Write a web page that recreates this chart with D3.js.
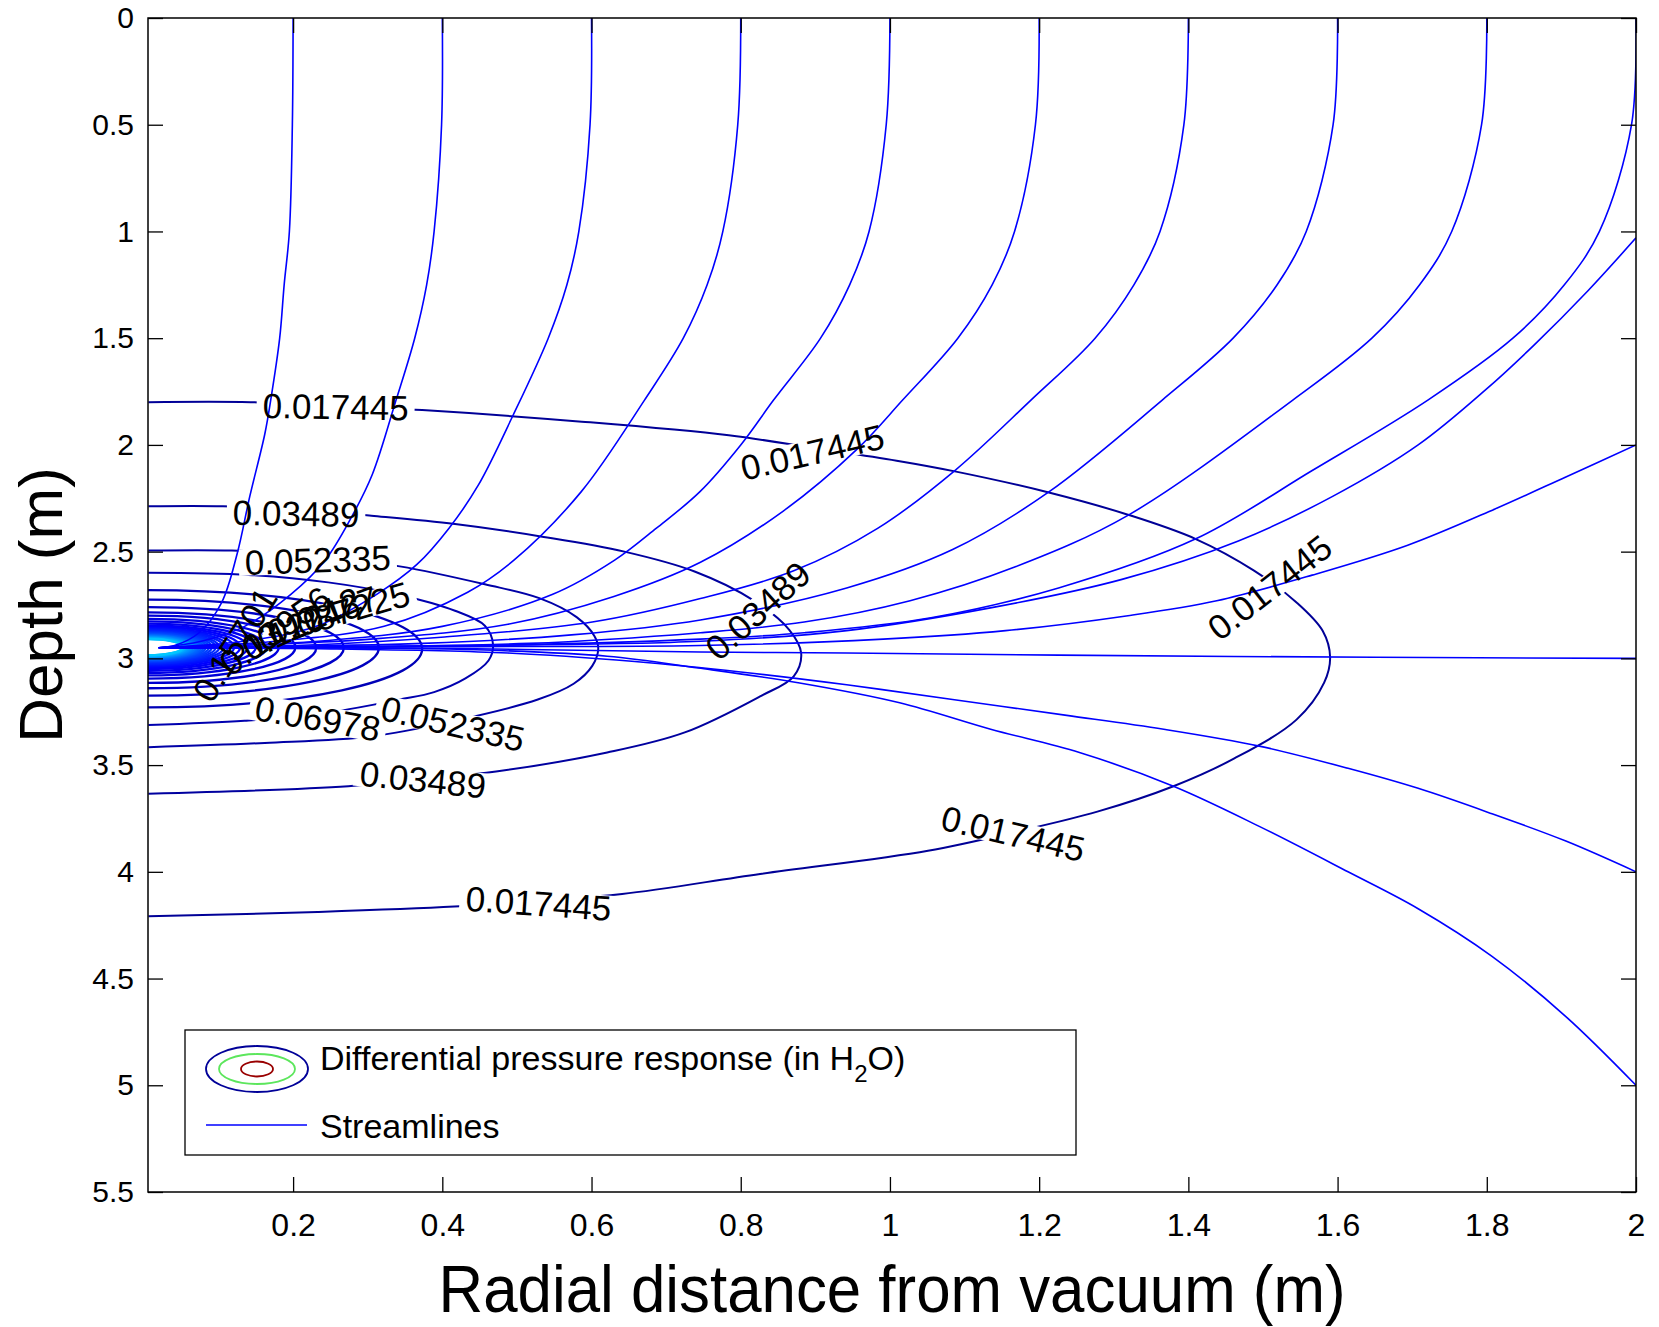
<!DOCTYPE html>
<html>
<head>
<meta charset="utf-8">
<title>Differential pressure response and streamlines</title>
<script src="https://cdnjs.cloudflare.com/ajax/libs/d3/7.8.5/d3.min.js"></script>
<style>
    body { margin: 0; background: #fff; }
    text { font-family: "Liberation Sans", Arial, Helvetica, sans-serif; fill: #000; }
</style>
</head>
<body>
<div id="chart"></div>
<script>
// contour levels of the differential pressure (in H2O)
var levels = [0.017445, 0.03489, 0.052335, 0.06978, 0.087225, 0.10467, 0.122115, 0.13956,
    0.157005, 0.17445, 0.191895, 0.20934, 0.226785, 0.24423, 0.261675, 0.27912, 0.296565,
    0.31401, 0.331455, 0.3489, 0.366345, 0.38379, 0.401235, 0.41868, 0.436125, 0.45357,
    0.471015, 0.48846, 0.505905, 0.52335, 0.540795, 0.55824, 0.575685, 0.59313, 0.610575, 0.62802];

// the four outer contours, traced as [radial distance, depth]
var contour1 = [[0.006,1.80],[0.143,1.80],[0.258,1.817],[0.373,1.837],[0.587,1.891],[0.784,1.955],[0.899,2.015],
    [1.009,2.074],[1.087,2.124],[1.213,2.223],[1.319,2.327],[1.41,2.441],[1.488,2.589],[1.545,2.738],[1.58,2.871],
    [1.59,2.995],[1.582,3.114],[1.545,3.287],[1.461,3.47],[1.38,3.599],[1.278,3.718],[1.169,3.812],[1.051,3.901],
    [0.826,4.01],[0.641,4.104],[0.53,4.134],[0.416,4.163],[0.233,4.188],[0.006,4.208]];
var contour2 = [[0.006,2.287],[0.106,2.287],[0.204,2.302],[0.305,2.332],[0.417,2.371],[0.536,2.431],[0.644,2.5],
    [0.739,2.594],[0.817,2.728],[0.865,2.866],[0.881,2.975],[0.871,3.084],[0.826,3.178],[0.725,3.347],[0.621,3.441],
    [0.472,3.53],[0.374,3.564],[0.274,3.599],[0.006,3.634]];
var contour3 = [[0.006,2.495],[0.118,2.495],[0.233,2.52],[0.343,2.569],[0.457,2.653],[0.53,2.718],[0.58,2.807],
    [0.604,2.896],[0.609,2.955],[0.601,3.035],[0.576,3.119],[0.528,3.193],[0.417,3.292],[0.304,3.366],[0.162,3.396],
    [0.006,3.416]];
var contour4 = [[0.006,2.599],[0.14,2.609],[0.247,2.644],[0.343,2.703],[0.417,2.777],[0.457,2.847],[0.468,2.936],
    [0.462,3.01],[0.431,3.094],[0.389,3.158],[0.343,3.193],[0.233,3.262],[0.135,3.292],[0.006,3.312]];
var outerContours = [contour1, contour2, contour3, contour4];

// inner contours (levels 5..36): depth where they meet the axis above / below, and radial reach
var innerTop = [2.68, 2.725, 2.76, 2.785, 2.80, 2.815, 2.827, 2.837, 2.845, 2.852, 2.858, 2.863, 2.868, 2.872,
    2.876, 2.879, 2.882, 2.885, 2.888, 2.890, 2.892, 2.894, 2.896, 2.898, 2.900, 2.902, 2.903, 2.905, 2.906,
    2.908, 2.909, 2.910];
var innerBottom = [3.23, 3.175, 3.14, 3.115, 3.095, 3.08, 3.068, 3.058, 3.05, 3.043, 3.037, 3.032, 3.027, 3.023,
    3.019, 3.016, 3.013, 3.010, 3.007, 3.005, 3.003, 3.001, 2.999, 2.997, 2.995, 2.993, 2.991, 2.990, 2.988,
    2.987, 2.986, 2.985];
var innerReach = [0.373, 0.315, 0.268, 0.231, 0.203, 0.181, 0.164, 0.150, 0.139, 0.129, 0.121, 0.113, 0.107,
    0.101, 0.096, 0.091, 0.087, 0.083, 0.080, 0.077, 0.074, 0.071, 0.069, 0.066, 0.064, 0.062, 0.060, 0.058,
    0.056, 0.055, 0.053, 0.052];

// streamlines, from the boundary to the vacuum point
var streamlines = [
    [[0.2,0],[0.199,0.5],[0.195,1.0],[0.188,1.25],[0.182,1.5],[0.17,1.79],[0.162,1.95],[0.142,2.24],[0.125,2.51],[0.104,2.74],[0.074,2.88],[0.041,2.94],[0.02,2.95]],
    [[0.4,0],[0.399,0.5],[0.389,1.0],[0.379,1.25],[0.363,1.5],[0.338,1.79],[0.306,2.14],[0.278,2.34],[0.243,2.54],[0.197,2.7],[0.135,2.85],[0.077,2.92],[0.02,2.95]],
    [[0.6,0],[0.598,0.5],[0.583,1.0],[0.567,1.25],[0.542,1.5],[0.495,1.86],[0.448,2.19],[0.409,2.39],[0.366,2.56],[0.312,2.7],[0.231,2.85],[0.133,2.92],[0.02,2.95]],
    [[0.8,0],[0.796,0.5],[0.776,1.0],[0.755,1.25],[0.723,1.5],[0.671,1.79],[0.586,2.22],[0.496,2.54],[0.434,2.69],[0.322,2.85],[0.176,2.92],[0.02,2.95]],
    [[1.0,0],[0.995,0.5],[0.972,1.0],[0.946,1.25],[0.907,1.5],[0.844,1.79],[0.8,2.0],[0.745,2.22],[0.687,2.39],[0.631,2.54],[0.548,2.7],[0.4,2.85],[0.233,2.92],[0.02,2.95]],
    [[1.2,0],[1.195,0.5],[1.167,1.0],[1.137,1.25],[1.091,1.5],[1.017,1.79],[0.956,2.02],[0.857,2.31],[0.746,2.55],[0.63,2.71],[0.488,2.84],[0.304,2.91],[0.119,2.94],[0.02,2.95]],
    [[1.4,0],[1.394,0.5],[1.362,1.0],[1.327,1.25],[1.275,1.5],[1.189,1.79],[1.087,2.12],[0.984,2.39],[0.871,2.59],[0.746,2.72],[0.601,2.83],[0.403,2.9],[0.204,2.94],[0.02,2.95]],
    [[1.6,0],[1.594,0.5],[1.558,1.0],[1.519,1.25],[1.46,1.5],[1.365,1.79],[1.213,2.22],[1.084,2.49],[0.942,2.67],[0.746,2.82],[0.573,2.89],[0.374,2.93],[0.02,2.95]],
    [[1.8,0],[1.793,0.5],[1.753,1.0],[1.71,1.25],[1.646,1.5],[1.54,1.79],[1.319,2.33],[1.169,2.57],[1.027,2.73],[0.885,2.83],[0.746,2.88],[0.516,2.93],[0.02,2.95]],
    [[2.0,0],[1.994,0.5],[1.951,1.0],[1.904,1.25],[1.835,1.5],[1.721,1.79],[1.566,2.12],[1.41,2.44],[1.226,2.67],[1.055,2.81],[0.885,2.88],[0.746,2.91],[0.445,2.94],[0.02,2.95]],
    [[2.0,1.03],[1.935,1.28],[1.864,1.53],[1.799,1.74],[1.708,2.0],[1.594,2.24],[1.467,2.45],[1.311,2.63],[1.14,2.76],[0.942,2.87],[0.746,2.92],[0.445,2.94],[0.02,2.95]],
    [[2.0,2.0],[1.906,2.15],[1.811,2.3],[1.694,2.47],[1.566,2.61],[1.438,2.73],[1.319,2.8],[1.155,2.87],[0.991,2.91],[0.746,2.94],[0.445,2.945],[0.02,2.95]],
    [[2.0,3.0],[1.651,2.995],[1.226,2.985],[0.942,2.975],[0.746,2.97],[0.445,2.955],[0.02,2.95]],
    [[2.0,4.0],[1.906,3.856],[1.807,3.728],[1.708,3.609],[1.614,3.515],[1.495,3.411],[1.367,3.332],[1.237,3.267],[1.084,3.193],[0.942,3.124],[0.8,3.064],[0.658,3.015],[0.488,2.975],[0.233,2.955],[0.02,2.95]],
    [[2.0,5.0],[1.906,4.678],[1.807,4.396],[1.708,4.173],[1.614,4.0],[1.495,3.787],[1.38,3.599],[1.254,3.441],[1.135,3.332],[1.013,3.208],[0.877,3.114],[0.743,3.045],[0.621,2.99],[0.445,2.96],[0.233,2.95],[0.02,2.95]]
];

// inline contour labels (the last five pile up next to the vacuum point)
var labelText = ["0.017445", "0.017445", "0.017445", "0.017445", "0.017445", "0.03489", "0.03489", "0.03489",
    "0.052335", "0.052335", "0.06978", "0.087225", "0.10467", "0.12212", "0.13956", "0.15701"];
var labelR = [0.257, 0.896, 1.509, 1.165, 0.529, 0.204, 0.823, 0.374, 0.233, 0.414, 0.233, 0.261, 0.233, 0.211, 0.176, 0.122];
var labelZ = [1.822, 2.035, 2.668, 3.822, 4.149, 2.322, 2.777, 3.569, 2.54, 3.307, 3.282, 2.787, 2.812, 2.837, 2.871, 2.936];
var labelAngle = [1, -13, -38, 13, 4, 1, -42, 6, -2, 13, 10, -16, -20, -25, -35, -58];
var labelCutsLine = [true, true, true, true, true, true, true, true, true, true, true, true, false, false, false, false];

var xTicks = [0.2, 0.4, 0.6, 0.8, 1, 1.2, 1.4, 1.6, 1.8, 2];
var yTicks = [0, 0.5, 1, 1.5, 2, 2.5, 3, 3.5, 4, 4.5, 5, 5.5];

var width = 1659, height = 1327;
var plotLeft = 148, plotRight = 1636, plotTop = 18, plotBottom = 1192;
var xMin = 0.0055;

var x = d3.scaleLinear().domain([xMin, 2]).range([plotLeft, plotRight]);
var y = d3.scaleLinear().domain([0, 5.5]).range([plotTop, plotBottom]);

// jet colormap
var jet = d3.scaleLinear()
    .domain([0, 0.125, 0.375, 0.625, 0.875, 1])
    .range(["#00008f", "#0000ff", "#00ffff", "#ffff00", "#ff0000", "#800000"])
    .clamp(true);
var colorTop = 1.96;

var svg = d3.select("#chart").append("svg")
    .attr("width", width)
    .attr("height", height);

var defs = svg.append("defs");
defs.append("clipPath").attr("id", "plotArea")
    .append("rect")
    .attr("x", plotLeft).attr("y", plotTop)
    .attr("width", plotRight - plotLeft).attr("height", plotBottom - plotTop);

var gapMask = defs.append("mask").attr("id", "labelGaps")
    .attr("maskUnits", "userSpaceOnUse")
    .attr("x", 0).attr("y", 0).attr("width", width).attr("height", height);
gapMask.append("rect")
    .attr("x", 0).attr("y", 0).attr("width", width).attr("height", height)
    .attr("fill", "white");

var line = d3.line()
    .x(function(d) { return x(d[0]); })
    .y(function(d) { return y(d[1]); })
    .curve(d3.curveCatmullRom.alpha(0.5));

var plot = svg.append("g").attr("clip-path", "url(#plotArea)");

// contours (broken where the labels sit)
var contours = plot.append("g").attr("mask", "url(#labelGaps)")
    .attr("fill", "none")
    .attr("stroke-width", 2);

contours.selectAll("path.outer")
    .data(outerContours)
    .enter().append("path")
    .attr("class", "outer")
    .attr("d", line)
    .attr("stroke", function(d, i) { return jet(levels[i] / colorTop); });

contours.selectAll("path.inner")
    .data(innerTop)
    .enter().append("path")
    .attr("class", "inner")
    .attr("d", function(d, i) {
        var x0 = x(xMin), y0 = y(innerTop[i]), y1 = y(innerBottom[i]);
        var rx = x(innerReach[i]) - x0, ry = (y1 - y0) / 2;
        var p = d3.path();
        p.moveTo(x0, y0);
        return p.toString() + "A" + rx + "," + ry + " 0 0 1 " + x0 + "," + y1;
    })
    .attr("stroke", function(d, i) { return jet(levels[i + 4] / colorTop); })
    .attr("stroke-width", 2.3);

// streamlines
plot.append("g")
    .attr("fill", "none")
    .attr("stroke", "#0000ff")
    .attr("stroke-width", 1.6)
    .selectAll("path")
    .data(streamlines)
    .enter().append("path")
    .attr("d", line);

// contour labels
var labels = svg.append("g")
    .attr("font-size", 35)
    .attr("text-anchor", "middle");

labels.selectAll("text")
    .data(labelText)
    .enter().append("text")
    .attr("transform", function(d, i) {
        return "translate(" + x(labelR[i]) + "," + y(labelZ[i]) + ") rotate(" + labelAngle[i] + ")";
    })
    .attr("dy", "0.35em")
    .text(function(d) { return d; })
    .each(function(d, i) {
        if (!labelCutsLine[i]) return;
        var w = this.getComputedTextLength();
        gapMask.append("rect")
            .attr("transform", "translate(" + x(labelR[i]) + "," + y(labelZ[i]) + ") rotate(" + labelAngle[i] + ")")
            .attr("x", -w / 2 - 6).attr("y", -13)
            .attr("width", w + 12).attr("height", 26)
            .attr("fill", "black");
    });

// axes with ticks pointing inwards
var xAxis = svg.append("g")
    .attr("transform", "translate(0," + plotBottom + ")")
    .call(d3.axisBottom(x).tickValues(xTicks).tickSize(-15).tickPadding(21).tickFormat(d3.format("~g")));
var yAxis = svg.append("g")
    .attr("transform", "translate(" + plotLeft + ",0)")
    .call(d3.axisLeft(y).tickValues(yTicks).tickSize(-15).tickPadding(14).tickFormat(d3.format("~g")));
svg.append("g")
    .attr("transform", "translate(0," + plotTop + ")")
    .call(d3.axisTop(x).tickValues(xTicks).tickSize(-15).tickFormat(""));
svg.append("g")
    .attr("transform", "translate(" + plotRight + ",0)")
    .call(d3.axisRight(y).tickValues(yTicks).tickSize(-15).tickFormat(""));

svg.selectAll(".domain").remove();
svg.selectAll(".tick line").attr("stroke", "#000").attr("stroke-width", 1.3);
svg.selectAll(".tick text")
    .attr("font-family", "'Liberation Sans', Arial, sans-serif")
    .attr("fill", "#000");
xAxis.selectAll(".tick text").attr("font-size", 32);
yAxis.selectAll(".tick text").attr("font-size", 30);

svg.append("rect")
    .attr("x", plotLeft).attr("y", plotTop)
    .attr("width", plotRight - plotLeft).attr("height", plotBottom - plotTop)
    .attr("fill", "none")
    .attr("stroke", "#000")
    .attr("stroke-width", 1.5);

// axis titles
svg.append("text")
    .attr("x", (plotLeft + plotRight) / 2)
    .attr("y", 1312)
    .attr("text-anchor", "middle")
    .attr("font-size", 66)
    .attr("textLength", 907)
    .attr("lengthAdjust", "spacingAndGlyphs")
    .text("Radial distance from vacuum (m)");

svg.append("text")
    .attr("transform", "translate(62," + (plotTop + plotBottom) / 2 + ") rotate(-90)")
    .attr("text-anchor", "middle")
    .attr("font-size", 62)
    .text("Depth (m)");

// legend
var legend = svg.append("g");
legend.append("rect")
    .attr("x", 185).attr("y", 1030)
    .attr("width", 891).attr("height", 125)
    .attr("fill", "#fff")
    .attr("stroke", "#000")
    .attr("stroke-width", 1.3);

var iconRx = [51, 38, 16], iconRy = [23, 15, 7.5];
var iconColor = [jet(0.01), "#5ce65c", "#990000"];
legend.selectAll("ellipse")
    .data(iconRx)
    .enter().append("ellipse")
    .attr("cx", 257).attr("cy", 1069)
    .attr("rx", function(d) { return d; })
    .attr("ry", function(d, i) { return iconRy[i]; })
    .attr("fill", "none")
    .attr("stroke", function(d, i) { return iconColor[i]; })
    .attr("stroke-width", 1.8);

var entry = legend.append("text")
    .attr("x", 320).attr("y", 1070)
    .attr("font-size", 34);
entry.append("tspan").text("Differential pressure response (in H");
entry.append("tspan").attr("font-size", 24).attr("dy", 12).text("2");
entry.append("tspan").attr("dy", -12).text("O)");

legend.append("line")
    .attr("x1", 206).attr("x2", 307)
    .attr("y1", 1125).attr("y2", 1125)
    .attr("stroke", "#0000ff")
    .attr("stroke-width", 1.6);
legend.append("text")
    .attr("x", 320).attr("y", 1138)
    .attr("font-size", 34)
    .text("Streamlines");
</script>
</body>
</html>
